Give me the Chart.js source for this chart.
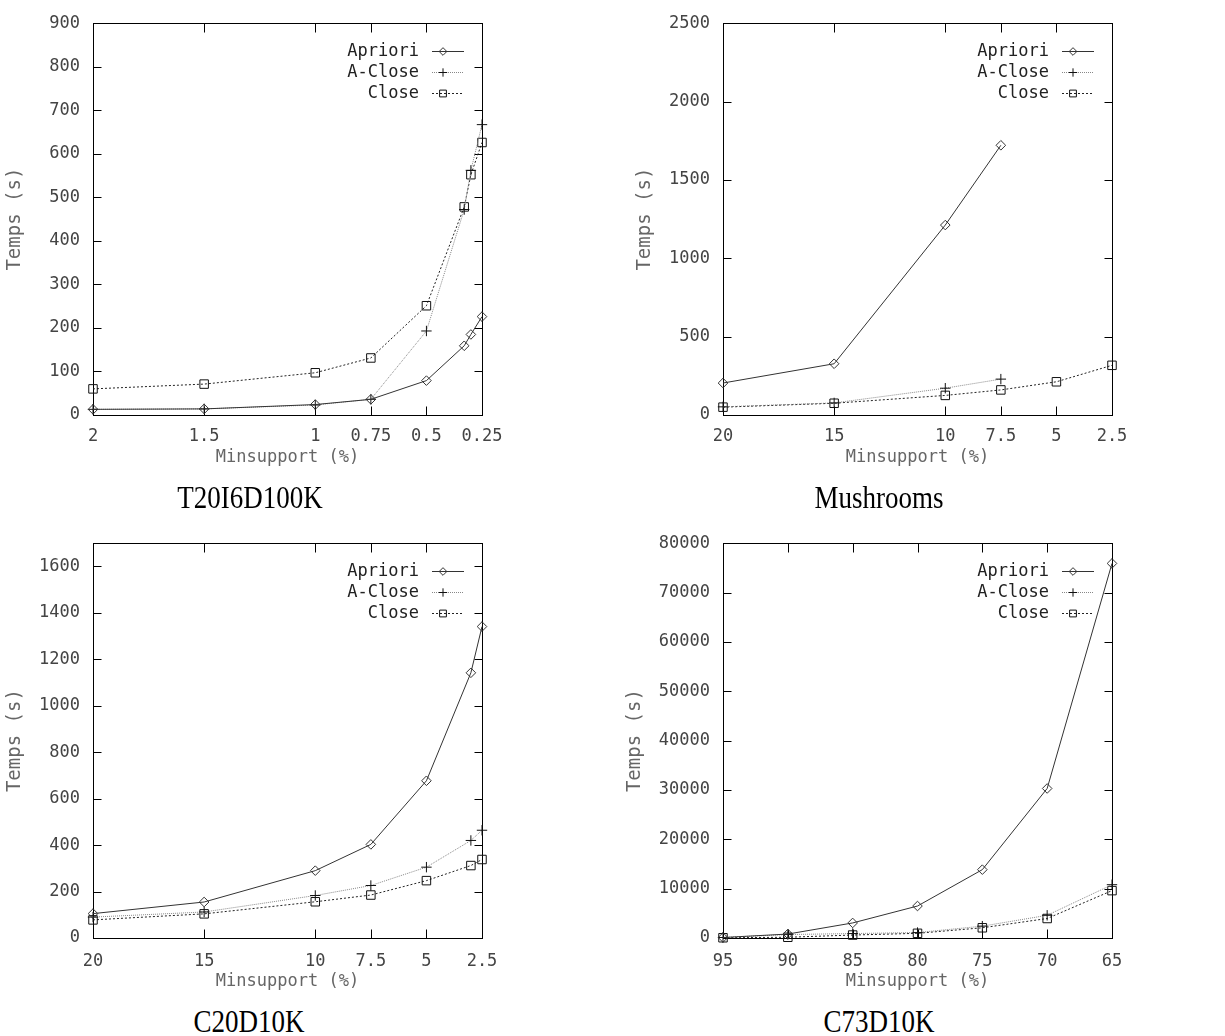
<!DOCTYPE html>
<html>
<head>
<meta charset="utf-8">
<script src="https://cdn.jsdelivr.net/npm/chart.js@4.4.0/dist/chart.umd.min.js"></script>
<style>
  body { margin: 0; background: #fff; width: 1225px; height: 1036px; position: relative; overflow: hidden; }
  canvas { position: absolute; }
  .caption {
    position: absolute; width: 300px; height: 27px; line-height: 27px; text-align: center;
    font-family: "Liberation Serif", "Times New Roman", serif; font-size: 27px; color: #000;
    transform: scaleY(1.17); transform-origin: 50% 22.6px;
  }
</style>
</head>
<body>
<canvas id="canvas1" width="612" height="480" style="left:0;top:0"></canvas>
<canvas id="canvas2" width="613" height="480" style="left:612px;top:0"></canvas>
<canvas id="canvas3" width="612" height="480" style="left:0;top:520px"></canvas>
<canvas id="canvas4" width="613" height="480" style="left:612px;top:520px"></canvas>
<div class="caption" style="left:100px;top:486px">T20I6D100K</div>
<div class="caption" style="left:729px;top:486px">Mushrooms</div>
<div class="caption" style="left:99px;top:1010px">C20D10K</div>
<div class="caption" style="left:729px;top:1010px">C73D10K</div>
<script>
let seriesNames = ["Apriori", "A-Close", "Close"];

// T20I6D100K
let t20Support = [2, 1.5, 1, 0.75, 0.5, 0.33, 0.3, 0.25];
let t20Apriori = [13, 14, 24, 36, 79, 159, 185, 226];
let t20AClose = [13, 14, 23, 36, 193, 472, 562, 667];
let t20Close = [60, 71, 97, 131, 251, 478, 552, 626];
let t20XTicks = [2, 1.5, 1, 0.75, 0.5, 0.25];
let t20YTicks = [0, 100, 200, 300, 400, 500, 600, 700, 800, 900];
let t20YMax = 900;

// Mushrooms
let mushSupport = [20, 15, 10, 7.5, 5, 2.5];
let mushApriori = [204, 327, 1212, 1721, null, null];
let mushAClose = [52, 77, 171, 229, null, null];
let mushClose = [50, 75, 125, 160, 212, 317];
let mushXTicks = [20, 15, 10, 7.5, 5, 2.5];
let mushYTicks = [0, 500, 1000, 1500, 2000, 2500];
let mushYMax = 2500;

// C20D10K
let c20Support = [20, 15, 10, 7.5, 5, 3, 2.5];
let c20Apriori = [105, 155, 290, 403, 677, 1142, 1341];
let c20AClose = [90, 112, 183, 226, 305, 420, 464];
let c20Close = [78, 104, 156, 185, 247, 312, 338];
let c20XTicks = [20, 15, 10, 7.5, 5, 2.5];
let c20YTicks = [0, 200, 400, 600, 800, 1000, 1200, 1400, 1600];
let c20YMax = 1700;

// C73D10K
let c73Support = [95, 90, 85, 80, 75, 70, 65];
let c73Apriori = [100, 800, 3050, 6480, 13850, 30300, 75900];
let c73AClose = [100, 700, 900, 1100, 2400, 4600, 10800];
let c73Close = [50, 150, 600, 950, 2070, 3950, 9600];
let c73XTicks = [95, 90, 85, 80, 75, 70, 65];
let c73YTicks = [0, 10000, 20000, 30000, 40000, 50000, 60000, 70000, 80000];
let c73YMax = 80000;

// gnuplot-like styles: solid/diamond, dotted/plus, dashed/square
let lineStyles = [
  { color: "#333", dash: [], marker: "rectRot", size: 4.8, markerColor: "#333" },
  { color: "#888", dash: [1, 1], marker: "cross", size: 5.2, markerColor: "#111" },
  { color: "#222", dash: [2, 2], marker: "rect", size: 6, markerColor: "#111" },
];

Chart.defaults.font.family = "'DejaVu Sans Mono', monospace";
Chart.defaults.font.size = 17;

function px(v) {
  return Math.round(v) + 0.5;
}

function drawMarker(ctx, style, x, y, r, color) {
  ctx.save();
  ctx.strokeStyle = color;
  ctx.lineWidth = 1;
  ctx.setLineDash([]);
  ctx.beginPath();
  if (style === "rectRot") {
    ctx.moveTo(x, y - r);
    ctx.lineTo(x + r, y);
    ctx.lineTo(x, y + r);
    ctx.lineTo(x - r, y);
    ctx.closePath();
  } else if (style === "cross") {
    ctx.moveTo(x - r, y);
    ctx.lineTo(x + r, y);
    ctx.moveTo(x, y - r);
    ctx.lineTo(x, y + r);
  } else {
    let s = r * Math.SQRT1_2;
    ctx.rect(x - s, y - s, 2 * s, 2 * s);
  }
  ctx.stroke();
  ctx.restore();
}

// frame round the plot with inward ticks on all four sides
const framePlugin = {
  id: "frame",
  beforeDatasetsDraw(chart) {
    const { ctx, chartArea: a, scales } = chart;
    let l = px(a.left), r = px(a.right), t = px(a.top), b = px(a.bottom);
    ctx.save();
    ctx.strokeStyle = "#000";
    ctx.lineWidth = 1;
    ctx.strokeRect(l, t, r - l, b - t);
    ctx.beginPath();
    scales.x.ticks.forEach((tk) => {
      let x = px(scales.x.getPixelForValue(tk.value));
      ctx.moveTo(x, b);
      ctx.lineTo(x, b - 9);
      ctx.moveTo(x, t);
      ctx.lineTo(x, t + 9);
    });
    scales.y.ticks.forEach((tk) => {
      let y = px(scales.y.getPixelForValue(tk.value));
      ctx.moveTo(l, y);
      ctx.lineTo(l + 8, y);
      ctx.moveTo(r, y);
      ctx.lineTo(r - 8, y);
    });
    ctx.stroke();
    ctx.restore();
  },
};

// key in the top right corner: text, then line sample with its marker
const legendPlugin = {
  id: "insideLegend",
  afterDatasetsDraw(chart) {
    const { ctx, chartArea: a } = chart;
    ctx.save();
    ctx.font = "17px 'DejaVu Sans Mono', monospace";
    ctx.textAlign = "right";
    ctx.textBaseline = "middle";
    chart.data.datasets.forEach((ds, i) => {
      let y = Math.round(a.top + 28 + i * 21) + 0.5;
      ctx.fillStyle = "#222";
      ctx.fillText(ds.label, a.right - 63, y);
      ctx.strokeStyle = ds.borderColor;
      ctx.lineWidth = 1;
      ctx.setLineDash(ds.borderDash);
      ctx.beginPath();
      ctx.moveTo(a.right - 50, y);
      ctx.lineTo(a.right - 18, y);
      ctx.stroke();
      drawMarker(ctx, ds.pointStyle, a.right - 39, y, ds.pointRadius * 0.8, ds.pointBorderColor);
    });
    ctx.restore();
  },
};

function buildData(xs, ys) {
  return xs.map((x, i) => ({ x: x, y: ys[i] })).filter((p) => p.y !== null);
}

function makeChart(id, box, xs, seriesValues, xTicks, yTicks, yMax) {
  let ctx = document.getElementById(id).getContext("2d");
  let datasets = seriesValues.map((ys, i) => ({
    label: seriesNames[i],
    data: buildData(xs, ys),
    borderColor: lineStyles[i].color,
    borderWidth: 1,
    borderDash: lineStyles[i].dash,
    pointStyle: lineStyles[i].marker,
    pointRadius: lineStyles[i].size,
    pointBorderColor: lineStyles[i].markerColor,
    pointBackgroundColor: "rgba(0,0,0,0)",
    pointBorderWidth: 1,
    tension: 0,
    clip: false,
  }));
  return new Chart(ctx, {
    type: "line",
    data: { datasets: datasets },
    options: {
      responsive: false,
      animation: false,
      events: [],
      layout: { padding: { left: 0, top: box.top, right: box.right, bottom: 0 } },
      plugins: { legend: { display: false }, tooltip: { enabled: false } },
      scales: {
        x: {
          type: "linear",
          reverse: true,
          min: Math.min(...xTicks),
          max: Math.max(...xTicks),
          grid: { display: false, drawTicks: false },
          border: { display: false },
          afterBuildTicks: (s) => {
            s.ticks = xTicks.map((v) => ({ value: v }));
          },
          afterFit: (s) => {
            s.height = box.xHeight;
          },
          ticks: {
            autoSkip: false,
            maxRotation: 0,
            padding: box.xPad,
            color: "#444",
            callback: (v) => String(v),
          },
          title: {
            display: true,
            text: "Minsupport (%)",
            color: "#666",
            padding: { top: 0, bottom: box.xTitlePad },
          },
        },
        y: {
          type: "linear",
          min: 0,
          max: yMax,
          grid: { display: false, drawTicks: false },
          border: { display: false },
          afterBuildTicks: (s) => {
            s.ticks = yTicks.map((v) => ({ value: v }));
          },
          afterFit: (s) => {
            s.width = box.left;
          },
          ticks: { padding: 13, color: "#444", callback: (v) => String(v) },
          title: {
            display: true,
            text: "Temps (s)",
            color: "#666",
            font: { size: 19 },
            padding: { top: box.yTitlePad, bottom: 0 },
          },
        },
      },
    },
    plugins: [framePlugin, legendPlugin],
  });
}

let chart1 = makeChart(
  "canvas1",
  { left: 93, top: 15, right: 130, xHeight: 65, xPad: 11, xTitlePad: 12, yTitlePad: 4 },
  t20Support,
  [t20Apriori, t20AClose, t20Close],
  t20XTicks,
  t20YTicks,
  t20YMax
);
let chart2 = makeChart(
  "canvas2",
  { left: 111, top: 15, right: 113, xHeight: 65, xPad: 11, xTitlePad: 12, yTitlePad: 22 },
  mushSupport,
  [mushApriori, mushAClose, mushClose],
  mushXTicks,
  mushYTicks,
  mushYMax
);
let chart3 = makeChart(
  "canvas3",
  { left: 93, top: 19, right: 130, xHeight: 62, xPad: 13, xTitlePad: 8, yTitlePad: 4 },
  c20Support,
  [c20Apriori, c20AClose, c20Close],
  c20XTicks,
  c20YTicks,
  c20YMax
);
let chart4 = makeChart(
  "canvas4",
  { left: 111, top: 19, right: 113, xHeight: 62, xPad: 13, xTitlePad: 8, yTitlePad: 12 },
  c73Support,
  [c73Apriori, c73AClose, c73Close],
  c73XTicks,
  c73YTicks,
  c73YMax
);
</script>
</body>
</html>
